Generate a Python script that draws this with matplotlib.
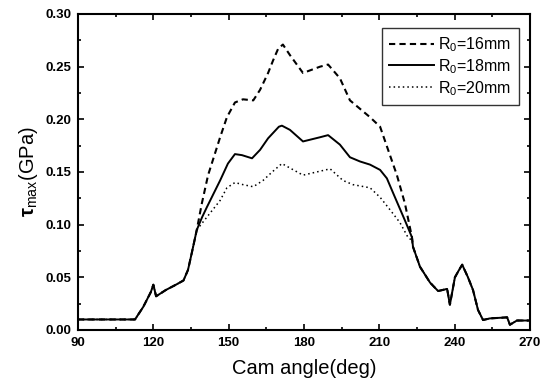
import matplotlib
matplotlib.use("Agg")
import matplotlib.pyplot as plt
import numpy as np
from matplotlib.ticker import MultipleLocator

plt.rcParams['font.family'] = ['Liberation Sans', 'DejaVu Sans']
plt.rcParams['mathtext.fontset'] = 'custom'
plt.rcParams['mathtext.rm'] = 'Liberation Sans'
plt.rcParams['mathtext.it'] = 'Liberation Sans:italic'
plt.rcParams['mathtext.bf'] = 'Liberation Sans:bold'

# Common part (all three curves coincide)
x_head = [90, 100, 112.7, 116, 119, 120, 121.1, 125, 129, 132, 133.8, 135.3, 137.3]
y_head = [0.010, 0.010, 0.010, 0.022, 0.036, 0.043, 0.032, 0.038, 0.043, 0.047, 0.057, 0.073, 0.095]

x_tail = [223.4, 226.2, 230.2, 233.4, 237, 238.1, 240.1, 241.5, 243, 245.3, 247.3, 249.3,
          251.3, 254, 260.9, 262, 264.8, 270]
y_tail = [0.079, 0.060, 0.045, 0.037, 0.039, 0.024, 0.050, 0.056, 0.062, 0.050, 0.038, 0.019,
          0.0095, 0.011, 0.012, 0.005, 0.009, 0.009]

# R0 = 16 mm (dashed)
x_16 = [139.3, 141.8, 146.6, 149.3, 152.5, 155.7, 159.8, 162.5, 165.7, 167.7, 169.7, 171.6,
        174.4, 179.6, 186.4, 189.6, 194.3, 198.3, 206.3, 210.3, 213.5, 217.0, 220.2, 223.0]
y_16 = [0.120, 0.147, 0.183, 0.202, 0.216, 0.219, 0.218, 0.228, 0.244, 0.256, 0.267, 0.271,
        0.261, 0.244, 0.250, 0.252, 0.239, 0.218, 0.202, 0.193, 0.171, 0.147, 0.120, 0.088]

# R0 = 18 mm (solid)
x_18 = [139.4, 141.4, 146.6, 149.7, 152.5, 155.3, 159.3, 162.5, 165.7, 170.0, 171.2, 174.4,
        179.6, 186.4, 189.6, 194.3, 198.3, 202.3, 206.3, 210.3, 213.0, 215.5, 220.2, 223.0]
y_18 = [0.107, 0.117, 0.142, 0.158, 0.167, 0.166, 0.163, 0.171, 0.182, 0.193, 0.194, 0.190,
        0.179, 0.183, 0.185, 0.176, 0.164, 0.160, 0.157, 0.152, 0.144, 0.130, 0.104, 0.088]

# R0 = 20 mm (dotted)
x_20 = [142.6, 146.6, 149.3, 152.5, 155.7, 159.8, 163.7, 167.3, 171.2, 179.6, 190.4, 195.5,
        199.5, 206.3, 210.3, 214.3, 218.2, 221.4, 223.0]
y_20 = [0.111, 0.123, 0.135, 0.140, 0.138, 0.136, 0.142, 0.150, 0.158, 0.147, 0.153, 0.142,
        0.138, 0.135, 0.126, 0.114, 0.102, 0.088, 0.085]

labels = ['R$_0$=16mm', 'R$_0$=18mm', 'R$_0$=20mm']

fig = plt.figure(figsize=(5.46, 3.89), dpi=100)
ax = fig.add_axes([78/546, 1-330/389, (530-78)/546, (330-14)/389])

def full(xm, ym):
    return x_head + xm + x_tail, y_head + ym + y_tail

xa, ya = full(x_16, y_16)
ax.plot(xa, ya, color='black', lw=1.5, ls=(0, (3, 2)), label=labels[0])
xb, yb = full(x_18, y_18)
ax.plot(xb, yb, color='black', lw=1.4, ls='-', label=labels[1])
xc, yc = full(x_20, y_20)
ax.plot(xc, yc, color='black', lw=1.1, ls=(0, (1, 2)), label=labels[2])

ax.set_xlim(90, 270)
ax.set_ylim(0, 0.30)
ax.xaxis.set_major_locator(MultipleLocator(30))
ax.xaxis.set_minor_locator(MultipleLocator(15))
ax.yaxis.set_major_locator(MultipleLocator(0.05))
ax.yaxis.set_minor_locator(MultipleLocator(0.025))
ax.set_yticks(np.arange(0, 0.301, 0.05))
ax.set_yticklabels(['%.2f' % v for v in np.arange(0, 0.301, 0.05)])
ax.tick_params(which='both', direction='in', top=True, right=True, width=1.2)
ax.tick_params(which='major', length=4.5, pad=5)
ax.tick_params(which='minor', length=2.5)
for lab in ax.get_xticklabels() + ax.get_yticklabels():
    lab.set_fontweight('bold')
    lab.set_fontsize(9.5)
for s in ax.spines.values():
    s.set_linewidth(1.5)

ax.set_xlabel('Cam angle(deg)', fontsize=14.5, labelpad=7)
ax.set_ylabel(r'$\mathbf{\tau}_{\rm max}$(GPa)', fontsize=14.5, labelpad=4)

leg = ax.legend(loc='upper right', bbox_to_anchor=(0.975, 0.956), fontsize=11.5,
                frameon=True, fancybox=False, edgecolor='black', handlelength=2.8,
                handletextpad=0.3, labelspacing=0.2, borderpad=0.45, borderaxespad=0)
leg.get_frame().set_linewidth(1.0)

fig.savefig('out.png', dpi=100)
